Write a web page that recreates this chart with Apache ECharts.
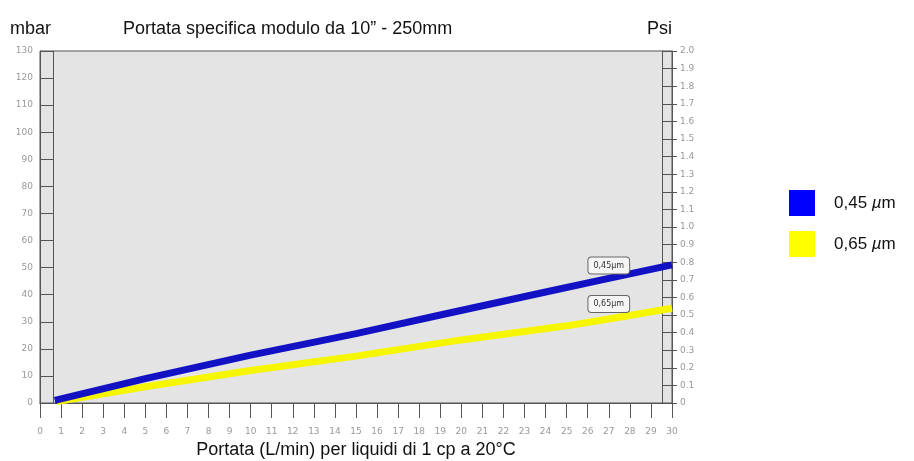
<!DOCTYPE html>
<html>
<head>
<meta charset="utf-8">
<script src="https://cdn.jsdelivr.net/npm/echarts@6/dist/echarts.min.js"></script>
<style>
html,body{margin:0;padding:0;background:#fff;}
#c{width:914px;height:461px;}
</style>
</head>
<body>
<div id="c"></div>
<script>
// ---- data ----
const seriesNames = ['0,45 µm', '0,65 µm'];
const pointLabels = ['0,45µm', '0,65µm'];
const flow045 = [0.7, 5, 10, 15, 19, 24, 27, 30];
const mbar045 = [1, 9, 17.7, 25.6, 32.5, 41, 46, 51];
const flow065 = [0.8, 5, 10, 15, 20, 25, 27, 30];
const mbar065 = [0.5, 6, 12, 17.3, 23.3, 28.5, 31, 35];
const labelAtFlow = 27;
const titleText = 'Portata specifica modulo da 10” - 250mm';
const leftUnit = 'mbar';
const rightUnit = 'Psi';
const xName = 'Portata (L/min) per liquidi di 1 cp a 20°C';

const lineColors = ['#1212c4', '#f6f600'];
const legendColors = ['#0000ff', '#ffff00'];
const lblDist = [5, 7];

function buildData(xs, ys, idx) {
  return xs.map((x, i) => {
    const item = { value: [x, ys[i]] };
    if (x === labelAtFlow) {
      item.label = {
        show: true, position: 'top', distance: lblDist[idx],
        formatter: pointLabels[idx],
        fontSize: 8, color: '#333', fontFamily: 'DejaVu Sans',
        backgroundColor: '#f5f5f5', borderColor: '#666', borderWidth: 1,
        borderRadius: 3, padding: [4, 5]
      };
    }
    return item;
  });
}

const axisGray = '#555';
const tickLbl = { color: '#999', fontSize: 9, fontFamily: 'DejaVu Sans' };
const titleStyle = { fontSize: 18, fontWeight: 'normal', color: '#111', fontFamily: 'Liberation Sans' };

const chart = echarts.init(document.getElementById('c'));
chart.setOption({
  animation: false,
  backgroundColor: '#fff',
  title: [
    { text: leftUnit, left: 10, top: 20, padding: 0, textStyle: titleStyle },
    { text: titleText, left: 123, top: 20, padding: 0, textStyle: titleStyle },
    { text: rightUnit, left: 647, top: 20, padding: 0, textStyle: titleStyle }
  ],
  legend: {
    orient: 'vertical', left: 789, top: 190, padding: 0,
    itemWidth: 26, itemHeight: 26, itemGap: 15, icon: 'rect',
    data: seriesNames.map((n, i) => ({ name: n, itemStyle: { color: legendColors[i] } })),
    textStyle: {
      fontSize: 17, color: '#111', fontFamily: 'Liberation Sans', padding: [0, 0, 0, 14],
      rich: { i: { fontSize: 17, fontStyle: 'italic', fontFamily: 'Liberation Sans', color: '#111' } }
    },
    formatter: n => n.replace('µ', '{i|µ}')
  },
  grid: {
    left: 40, right: 242, top: 51, bottom: 58,
    containLabel: false, outerBoundsMode: 'none',
    show: true, backgroundColor: '#e4e4e4', borderColor: axisGray, borderWidth: 1
  },
  xAxis: [
    {
      type: 'value', min: 0, max: 30, interval: 1, position: 'bottom',
      axisLine: { show: true, lineStyle: { color: axisGray } },
      axisTick: { show: true, length: 15, lineStyle: { color: axisGray } },
      axisLabel: { show: false }, splitLine: { show: false }
    },
    {
      type: 'value', min: 0, max: 30, interval: 1, position: 'bottom', offset: 15,
      axisLine: { show: true, lineStyle: { color: axisGray } },
      axisTick: { show: false },
      axisLabel: Object.assign({ show: true, margin: 9 }, tickLbl),
      splitLine: { show: false },
      name: xName, nameLocation: 'middle', nameGap: 23,
      nameTextStyle: { fontSize: 18, color: '#111', fontFamily: 'Liberation Sans' }
    }
  ],
  yAxis: [
    {
      type: 'value', min: 0, max: 130, interval: 10, position: 'left',
      axisLine: { show: true, lineStyle: { color: axisGray } },
      axisTick: { show: true, inside: true, length: 13, lineStyle: { color: axisGray } },
      axisLabel: Object.assign({ show: true, margin: 7, padding: [4, 0, 0, 0] }, tickLbl),
      splitLine: { show: false }
    },
    {
      type: 'value', min: 0, max: 130, interval: 10, position: 'left', offset: -13,
      axisLine: { show: true, lineStyle: { color: axisGray } },
      axisTick: { show: false }, axisLabel: { show: false }, splitLine: { show: false }
    },
    {
      type: 'value', min: 0, max: 2, interval: 0.1, position: 'right',
      axisLine: { show: true, lineStyle: { color: axisGray } },
      axisTick: { show: true, length: 5, lineStyle: { color: axisGray } },
      axisLabel: Object.assign({ show: true, margin: 8, padding: [4, 0, 0, 0], formatter: v => v === 0 ? '0' : v.toFixed(1) }, tickLbl),
      splitLine: { show: false }
    },
    {
      type: 'value', min: 0, max: 2, interval: 0.1, position: 'right', offset: -10,
      axisLine: { show: true, lineStyle: { color: axisGray } },
      axisTick: { show: true, length: 10, lineStyle: { color: axisGray } },
      axisLabel: { show: false }, splitLine: { show: false }
    }
  ],
  series: [
    {
      name: seriesNames[1], type: 'line', xAxisIndex: 0, yAxisIndex: 0, z: 2,
      data: buildData(flow065, mbar065, 1),
      symbol: 'circle', symbolSize: 0, showSymbol: true,
      itemStyle: { color: legendColors[1] },
      lineStyle: { color: lineColors[1], width: 7 }
    },
    {
      name: seriesNames[0], type: 'line', xAxisIndex: 0, yAxisIndex: 0, z: 3,
      data: buildData(flow045, mbar045, 0),
      symbol: 'circle', symbolSize: 0, showSymbol: true,
      itemStyle: { color: legendColors[0] },
      lineStyle: { color: lineColors[0], width: 7 }
    }
  ]
});
</script>
</body>
</html>
